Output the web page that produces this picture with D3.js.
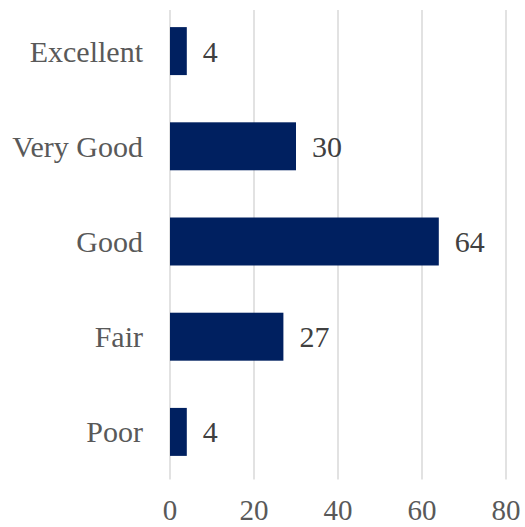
<!DOCTYPE html>
<html>
<head>
<meta charset="utf-8">
<script src="https://cdn.jsdelivr.net/npm/d3@7"></script>
<style>
  html, body { margin: 0; padding: 0; background: #fff; }
  svg { display: block; }
</style>
</head>
<body>
<svg id="chart" width="525" height="527"></svg>
<script>
// Ratings and their counts
const categories = ["Excellent", "Very Good", "Good", "Fair", "Poor"];
const counts = [4, 30, 64, 27, 4];
const xTicks = [0, 20, 40, 60, 80];

const width = 525, height = 527;
const margin = { top: 3.5, right: 19, bottom: 47.5, left: 170 };
const font = "'Liberation Serif', 'Times New Roman', serif";
const textColor = "#595959";

const svg = d3.select("#chart");

const x = d3.scaleLinear()
  .domain([0, 80])
  .range([margin.left, width - margin.right]);

const y = d3.scaleBand()
  .domain(categories)
  .range([margin.top, height - margin.bottom])
  .paddingInner(0.496)
  .paddingOuter(0.248);

// vertical gridlines
svg.append("g")
  .selectAll("line")
  .data(xTicks)
  .join("line")
  .attr("x1", d => x(d)).attr("x2", d => x(d))
  .attr("y1", 10).attr("y2", height - margin.bottom)
  .attr("stroke", "#d9d9d9")
  .attr("stroke-width", 1.5);

// x axis tick labels
svg.append("g")
  .selectAll("text")
  .data(xTicks)
  .join("text")
  .attr("x", d => x(d))
  .attr("y", 520)
  .attr("text-anchor", "middle")
  .attr("font-family", font)
  .attr("font-size", 29)
  .attr("fill", textColor)
  .text(d => d);

// bars
svg.append("g")
  .selectAll("rect")
  .data(categories)
  .join("rect")
  .attr("x", x(0))
  .attr("y", d => y(d))
  .attr("width", (d, i) => x(counts[i]) - x(0))
  .attr("height", y.bandwidth())
  .attr("fill", "#002060");

// category labels
svg.append("g")
  .selectAll("text")
  .data(categories)
  .join("text")
  .attr("x", 143)
  .attr("y", d => y(d) + y.bandwidth() / 2)
  .attr("dy", "0.35em")
  .attr("text-anchor", "end")
  .attr("font-family", font)
  .attr("font-size", 30)
  .attr("fill", textColor)
  .text(d => d);

// value labels
svg.append("g")
  .selectAll("text")
  .data(categories)
  .join("text")
  .attr("x", (d, i) => x(counts[i]) + 16)
  .attr("y", d => y(d) + y.bandwidth() / 2)
  .attr("dy", "0.35em")
  .attr("font-family", font)
  .attr("font-size", 30)
  .attr("fill", "#404040")
  .text((d, i) => counts[i]);
</script>
</body>
</html>
